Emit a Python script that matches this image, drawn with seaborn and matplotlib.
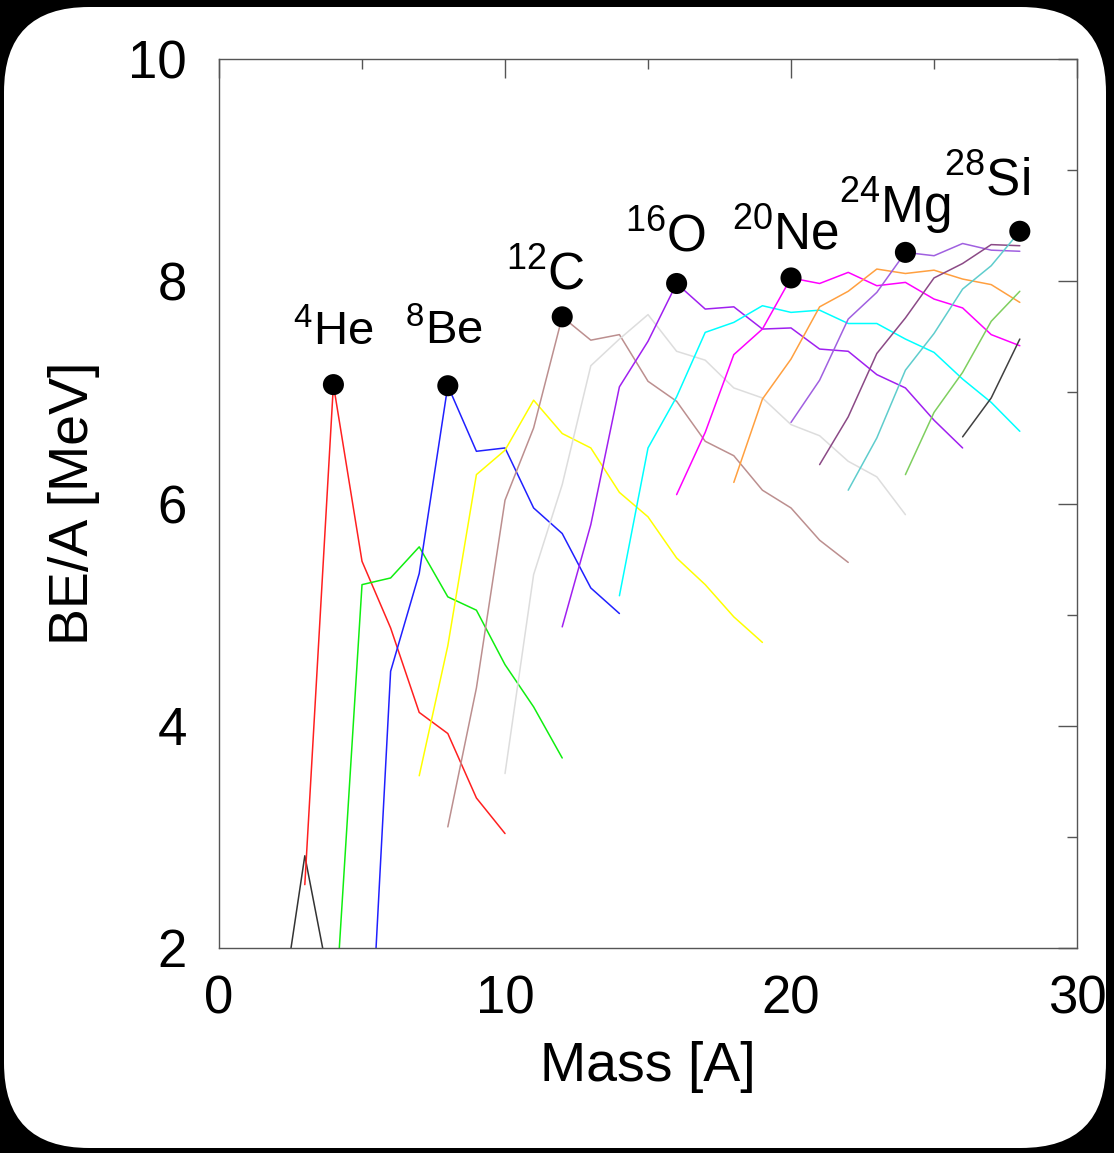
import matplotlib
matplotlib.use("Agg")
import matplotlib.pyplot as plt
import seaborn as sns
import pandas as pd
from matplotlib.patches import FancyBboxPatch
from matplotlib.ticker import MultipleLocator

# binding energy per nucleon, one isotope chain per element
elements = ["H", "He", "Li", "Be", "B", "C", "N", "O", "F", "Ne", "Na", "Mg", "Al", "Si", "P", "S"]
first_mass = [2, 3, 4, 5, 7, 8, 10, 12, 14, 16, 18, 20, 21, 22, 24, 26]

be_H = [1.11, 2.83, 1.50]
be_He = [2.57, 7.07, 5.48, 4.88, 4.12, 3.93, 3.35, 3.03]
be_Li = [1.15, 5.27, 5.33, 5.61, 5.16, 5.04, 4.55, 4.17, 3.71]
be_Be = [-0.40, 4.49, 5.37, 7.06, 6.47, 6.50, 5.96, 5.73, 5.24, 5.01]
be_B = [3.55, 4.72, 6.26, 6.48, 6.93, 6.63, 6.50, 6.10, 5.88, 5.51, 5.27, 4.98, 4.75]
be_C = [3.09, 4.34, 6.03, 6.68, 7.68, 7.47, 7.52, 7.10, 6.92, 6.56, 6.43, 6.12, 5.96, 5.67, 5.47]
be_N = [3.57, 5.36, 6.17, 7.24, 7.48, 7.70, 7.37, 7.29, 7.04, 6.95, 6.71, 6.61, 6.38, 6.24, 5.90]
be_O = [4.89, 5.81, 7.05, 7.46, 7.98, 7.75, 7.77, 7.57, 7.58, 7.39, 7.37, 7.16, 7.04, 6.75, 6.50]
be_F = [5.17, 6.50, 6.96, 7.54, 7.63, 7.78, 7.72, 7.74, 7.62, 7.62, 7.48, 7.36, 7.12, 6.91, 6.65]
be_Ne = [6.08, 6.64, 7.34, 7.57, 8.03, 7.98, 8.08, 7.96, 7.99, 7.84, 7.76, 7.52, 7.42]
be_Na = [6.19, 6.94, 7.30, 7.77, 7.91, 8.11, 8.07, 8.10, 8.02, 7.97, 7.81]
be_Mg = [6.73, 7.11, 7.66, 7.90, 8.26, 8.23, 8.34, 8.28, 8.27]
be_Al = [6.35, 6.78, 7.35, 7.67, 8.03, 8.16, 8.33, 8.32]
be_Si = [6.12, 6.59, 7.20, 7.53, 7.93, 8.14, 8.45]
be_P = [6.26, 6.82, 7.18, 7.64, 7.91]
be_S = [6.60, 6.95, 7.48]

series = [be_H, be_He, be_Li, be_Be, be_B, be_C, be_N, be_O, be_F, be_Ne,
          be_Na, be_Mg, be_Al, be_Si, be_P, be_S]

line_colors = ["#333333", "#ff2020", "#10ee10", "#2020ff", "#ffff00", "#bc8f8f",
               "#dddddd", "#a020f0", "#00ffff", "#ff00ff", "#ffa040", "#a060e0",
               "#8b4a86", "#5fcdcd", "#7fcf5f", "#404040"]

# alpha-particle nuclei marked with dots
alpha_mass = [4, 8, 12, 16, 20, 24, 28]
alpha_be = [7.07, 7.06, 7.68, 7.98, 8.03, 8.26, 8.45]
alpha_labels = [r"$^{4}$He", r"$^{8}$Be", r"$^{12}$C", r"$^{16}$O",
                r"$^{20}$Ne", r"$^{24}$Mg", r"$^{28}$Si"]

rows = []
for name, start, vals in zip(elements, first_mass, series):
    for i, v in enumerate(vals):
        rows.append({"element": name, "mass": start + i, "be": v})
df = pd.DataFrame(rows)

sns.set_style("white")
plt.rcParams["font.family"] = ["Liberation Sans", "DejaVu Sans"]
plt.rcParams["mathtext.fontset"] = "custom"
plt.rcParams["mathtext.rm"] = "Liberation Sans"
plt.rcParams["mathtext.default"] = "regular"

fig = plt.figure(figsize=(11.14, 11.53), dpi=100, facecolor="black")
card = FancyBboxPatch((0.04, 0.05), 11.02, 11.41,
                      boxstyle="round,pad=0,rounding_size=0.85",
                      transform=fig.dpi_scale_trans,
                      facecolor="white", edgecolor="none", zorder=-10)
fig.patches.append(card)

ax = fig.add_axes([0.1966, 0.1778, 0.7702, 0.7710])
ax.set_zorder(1)

sns.lineplot(data=df, x="mass", y="be", hue="element",
             palette=dict(zip(elements, line_colors)),
             estimator=None, sort=False, linewidth=1.1, legend=False, ax=ax)

sns.scatterplot(x=alpha_mass, y=alpha_be, color="black", s=230,
                edgecolor="none", zorder=5, legend=False, ax=ax)

# label offsets in pixels (dx, dy) and sizes
label_dx = [0, -4, -17, -11, -5, -10, -33]
label_dy = [39, 41, 27, 32, 29, 29, 36]
label_size = [34, 34, 37, 37, 37, 37, 37]
for x, y, lab, dx, dy, fs in zip(alpha_mass, alpha_be, alpha_labels,
                                 label_dx, label_dy, label_size):
    ax.annotate(lab, (x, y), xytext=(dx * 0.72, dy * 0.72),
                textcoords="offset points", ha="center", va="baseline",
                fontsize=fs, color="black")

ax.set_xlim(0, 30)
ax.set_ylim(2, 10)
ax.xaxis.set_major_locator(MultipleLocator(10))
ax.xaxis.set_minor_locator(MultipleLocator(5))
ax.yaxis.set_major_locator(MultipleLocator(2))
ax.yaxis.set_minor_locator(MultipleLocator(1))

ax.tick_params(which="both", direction="in", top=True, right=True,
               color="#555555", width=1.0, labelsize=38, labelcolor="black")
ax.tick_params(which="major", length=14)
ax.tick_params(which="minor", length=7)
ax.tick_params(axis="x", which="major", pad=19)
ax.tick_params(axis="y", which="major", pad=23)

for sp in ax.spines.values():
    sp.set_color("#555555")
    sp.set_linewidth(1.0)

ax.set_xlabel("Mass [A]", fontsize=40, color="black")
ax.set_ylabel("BE/A [MeV]", fontsize=40, color="black")
ax.xaxis.set_label_coords(0.5, -0.105)
ax.yaxis.set_label_coords(-0.139, 0.5)

fig.savefig("out.png", dpi=100, facecolor="black")
